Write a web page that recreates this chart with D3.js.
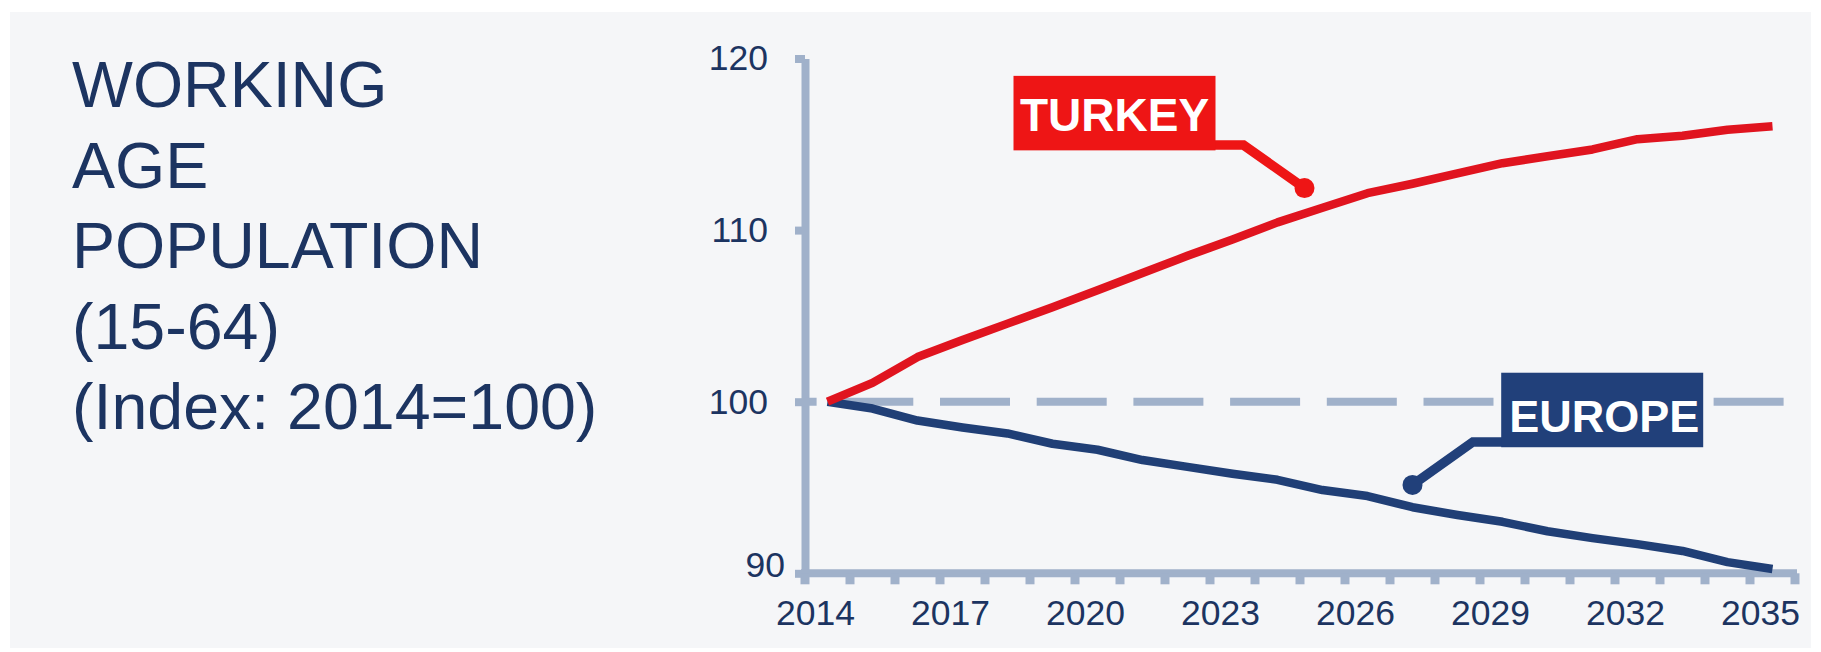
<!DOCTYPE html>
<html>
<head>
<meta charset="utf-8">
<script src="https://cdn.jsdelivr.net/npm/d3@7"></script>
<style>
  html, body { margin: 0; padding: 0; background: #ffffff; }
  svg { display: block; }
  text { font-family: "Liberation Sans", Arial, sans-serif; }
</style>
</head>
<body>
<svg id="chart" width="1821" height="652"></svg>
<script>
// ---------- data ----------
const years = [2014, 2015, 2016, 2017, 2018, 2019, 2020, 2021, 2022, 2023, 2024,
               2025, 2026, 2027, 2028, 2029, 2030, 2031, 2032, 2033, 2034, 2035];
const turkey = [100, 101.1, 102.6, 103.6, 104.55, 105.5, 106.5, 107.5, 108.5, 109.45, 110.45,
                111.3, 112.15, 112.7, 113.3, 113.9, 114.3, 114.7, 115.3, 115.5, 115.85, 116.05];
const europe = [100, 99.6, 98.9, 98.5, 98.15, 97.55, 97.2, 96.6, 96.2, 95.8, 95.45,
                94.85, 94.5, 93.85, 93.4, 93.0, 92.45, 92.05, 91.7, 91.3, 90.65, 90.25];
const yTicks = [90, 100, 110, 120];
const xLabelYears = [2014, 2017, 2020, 2023, 2026, 2029, 2032, 2035];
const baseline = 100;
const titleLines = ["WORKING", "AGE", "POPULATION", "(15-64)", "(Index: 2014=100)"];
const seriesNames = ["TURKEY", "EUROPE"];
// annotation anchors in data units: [fractional year, value]
const turkeyAnchor = [2024.6, 112.45];
const europeAnchor = [2027.0, 95.15];

// ---------- style ----------
const NAVY_TEXT = "#1c3461";
const AXIS = "#a0b1ca";
const RED_LINE = "#e0141f";
const RED_BOX = "#ee1515";
const BLUE_LINE = "#203f76";
const BLUE_BOX = "#21407a";

const svg = d3.select("#chart");

// background panel
svg.append("rect").attr("x", 10).attr("y", 12).attr("width", 1801).attr("height", 636)
  .attr("fill", "#f5f6f8");

// title
const title = svg.append("text").attr("fill", NAVY_TEXT).attr("font-size", 64.5);
titleLines.forEach((t, i) => {
  title.append("tspan").attr("x", 72).attr("y", 107 + i * 80.5).text(t);
});

// ---------- scales ----------
const x = d3.scaleBand().domain(years).range([805, 1795]);
const bw = x.bandwidth();
const xc = d => x(d) + bw / 2;
const xFrac = d3.scaleLinear().domain([years[0], years[years.length - 1]])
  .range([xc(years[0]), xc(years[years.length - 1])]);
const y = d3.scaleLinear().domain([90, 120]).range([573.3, 58.5]);

// ---------- axes ----------
// y axis
const gy = svg.append("g").attr("transform", "translate(805,0)")
  .call(d3.axisLeft(y).tickValues(yTicks).tickSize(10).tickPadding(27).tickSizeOuter(0));
gy.select(".domain").attr("stroke", AXIS).attr("stroke-width", 8);
gy.selectAll(".tick line").attr("stroke", AXIS).attr("stroke-width", 8);
gy.selectAll(".tick text").attr("fill", NAVY_TEXT).attr("font-size", 35.5)
  .attr("font-family", "Liberation Sans, Arial, sans-serif");
gy.selectAll(".tick").filter(d => d === 90).select("text").attr("dx", 17).attr("dy", "0.1em");

// x axis line and tick marks at category boundaries
const y0 = y(90);
svg.append("line").attr("x1", x.range()[0] - 4).attr("x2", x.range()[1] + 2)
  .attr("y1", y0).attr("y2", y0).attr("stroke", AXIS).attr("stroke-width", 8);
const bounds = years.map(d => x(d)).concat([x.range()[1]]);
svg.append("g").selectAll("line").data(bounds).join("line")
  .attr("x1", d => d).attr("x2", d => d)
  .attr("y1", y0).attr("y2", y0 + 11)
  .attr("stroke", AXIS).attr("stroke-width", 9);

// x labels
const gx = svg.append("g").attr("transform", `translate(0,${y0})`)
  .call(d3.axisBottom(x).tickValues(xLabelYears).tickSize(0).tickPadding(26.5));
gx.select(".domain").remove();
gx.selectAll(".tick text").attr("fill", NAVY_TEXT).attr("font-size", 35.5).attr("dx", -12)
  .attr("font-family", "Liberation Sans, Arial, sans-serif");

// dashed baseline at 100
const dashStart = x.range()[0];
svg.append("line")
  .attr("x1", dashStart).attr("x2", x.range()[1] + 11)
  .attr("y1", y(baseline)).attr("y2", y(baseline))
  .attr("stroke", AXIS).attr("stroke-width", 8)
  .attr("stroke-dasharray", "70,26.7").attr("stroke-dashoffset", 58.4);

// ---------- lines ----------
const line = d3.line().x((d, i) => xc(years[i])).y(d => y(d));
svg.append("path").datum(europe).attr("d", line)
  .attr("fill", "none").attr("stroke", BLUE_LINE).attr("stroke-width", 8.5)
  .attr("stroke-linejoin", "round");
svg.append("path").datum(turkey).attr("d", line)
  .attr("fill", "none").attr("stroke", RED_LINE).attr("stroke-width", 8.5)
  .attr("stroke-linejoin", "round");

// ---------- annotations ----------
function annotate(anchor, name, color, side, fontSize, textDrop) {
  const ax = xFrac(anchor[0]), ay = y(anchor[1]);
  const boxW = 202, boxH = 74.5;
  const boxBottom = ay - 37.7;
  const boxX = side === "left" ? ax - 89 - boxW : ax + 88.7;
  const bendX = side === "left" ? ax - 61 : ax + 60.4;
  const edgeX = side === "left" ? boxX + boxW - 2 : boxX + 2;
  const g = svg.append("g");
  g.append("path")
    .attr("d", `M${edgeX},${ay - 43} H${bendX} L${ax},${ay}`)
    .attr("fill", "none").attr("stroke", color).attr("stroke-width", 9.5);
  g.append("circle").attr("cx", ax).attr("cy", ay).attr("r", 10).attr("fill", color);
  g.append("rect").attr("x", boxX).attr("y", boxBottom - boxH)
    .attr("width", boxW).attr("height", boxH).attr("fill", color);
  g.append("text").attr("x", boxX + boxW / 2 + (side === "left" ? 0 : 2))
    .attr("y", boxBottom - boxH + textDrop)
    .attr("text-anchor", "middle").attr("font-weight", "bold")
    .attr("font-size", fontSize).attr("fill", "#ffffff").text(name);
}
annotate(turkeyAnchor, seriesNames[0], RED_BOX, "left", 46, 54.8);
annotate(europeAnchor, seriesNames[1], BLUE_BOX, "right", 45, 59.4);
</script>
</body>
</html>
